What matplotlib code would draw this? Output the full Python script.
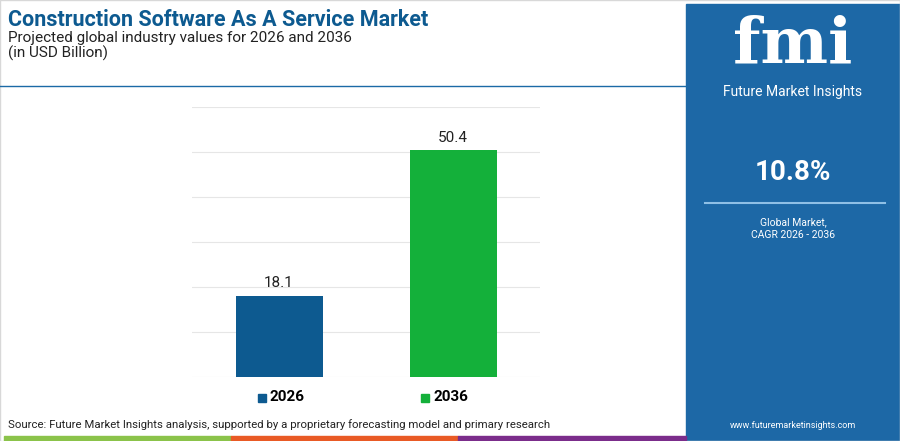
import matplotlib.pyplot as plt
from matplotlib.patches import Rectangle

years = ['2026', '2036']
values = [18.1, 50.4]
colors = ['#0d5a90', '#14b03a']
cagr = '10.8%'

W, H = 900, 441
fig = plt.figure(figsize=(W / 100, H / 100), dpi=100)
fig.patch.set_facecolor('white')

def fx(px):
    return px / W

def fy(py):
    return 1 - py / H

# outer frame + header rule
fig.add_artist(Rectangle((0, 0), 1, 1, transform=fig.transFigure, fill=False, ec='#d8d8d8', lw=1))
fig.add_artist(plt.Line2D([0, fx(686)], [fy(86), fy(86)], transform=fig.transFigure, color='#1b6aa6', lw=1))

# right panel
fig.add_artist(Rectangle((fx(686), 0), fx(214), fy(4), transform=fig.transFigure, color='#1d68a6', zorder=0))
fig.text(fx(793), fy(45), 'fmi', color='white', fontsize=46, fontweight='bold', family='DejaVu Serif', ha='center', va='center')
fig.text(fx(793), fy(92), 'Future Market Insights', color='white', fontsize=10, ha='center', va='center', family='Roboto')
fig.text(fx(793), fy(172), cagr, color='white', fontsize=20, fontweight='bold', ha='center', va='center', family='Roboto')
fig.add_artist(plt.Line2D([fx(705), fx(885)], [fy(203), fy(203)], transform=fig.transFigure, color='#8fc0e6', lw=1.5))
fig.text(fx(793), fy(222), 'Global Market,', color='white', fontsize=7.5, ha='center', va='center', family='Roboto')
fig.text(fx(793), fy(235), 'CAGR 2026 - 2036', color='white', fontsize=7.5, ha='center', va='center', family='Roboto')
fig.text(fx(793), fy(425), 'www.futuremarketinsights.com', color='white', fontsize=6.5, ha='center', va='center', family='Roboto')

# titles
fig.text(fx(8), fy(20), 'Construction Software As A Service Market', color='#0d5a90', fontsize=15.5, fontweight='bold', va='center', family='Roboto')
fig.text(fx(8), fy(38), 'Projected global industry values for 2026 and 2036', color='#222222', fontsize=11, va='center', family='Roboto')
fig.text(fx(8), fy(53), '(in USD Billion)', color='#222222', fontsize=11, va='center', family='Roboto')

# chart
ax = fig.add_axes([fx(192), fy(377), fx(540 - 192), fy(107) - fy(377)])
x = range(len(years))
bars = ax.bar(x, values, width=0.5, color=colors, zorder=3)
for b, v in zip(bars, values):
    ax.text(b.get_x() + b.get_width() / 2, v + 1.2, f'{v}', ha='center', va='bottom', fontsize=11, color='#222222', family='Roboto')
ax.set_xlim(-0.5, 1.5)
ax.set_ylim(0, 60)
ax.set_yticks(range(0, 61, 10))
ax.grid(axis='y', color='#e6e6e6', lw=0.8, zorder=0)
ax.tick_params(left=False, bottom=False, labelleft=False, labelbottom=False)
for s in ax.spines.values():
    s.set_visible(False)

# legend
for i, (yr, c) in enumerate(zip(years, colors)):
    px = 258 + i * 163
    fig.add_artist(Rectangle((fx(px), fy(402)), fx(8), fy(394) - fy(402), transform=fig.transFigure, color=c))
    fig.text(fx(px + 12), fy(397), yr, fontsize=11, fontweight='bold', va='center', family='Roboto')

fig.text(fx(8), fy(425), 'Source: Future Market Insights analysis, supported by a proprietary forecasting model and primary research',
         fontsize=8.2, color='#222222', va='center', family='Roboto')

# bottom colour strip
for x0, x1, c in [(4, 231, '#8bc34a'), (231, 458, '#e95a25'), (458, 686, '#7b2d8b')]:
    fig.add_artist(Rectangle((fx(x0), fy(441)), fx(x1 - x0), fy(436) - fy(441), transform=fig.transFigure, color=c))

fig.savefig('out.png', dpi=100)
